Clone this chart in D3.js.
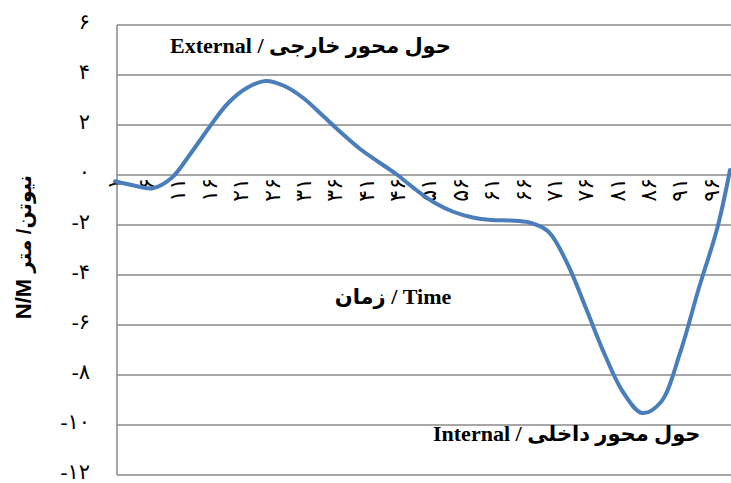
<!DOCTYPE html>
<html>
<head>
<meta charset="utf-8">
<script src="https://cdn.jsdelivr.net/npm/d3@7"></script>
<style>
  body { margin: 0; background: #fff; }
  svg { display: block; }
</style>
</head>
<body>
<svg id="chart" width="731" height="483"></svg>
<script>
// values (every third time step)
var sampleIndex = [1, 4, 7, 10, 13, 16, 19, 22, 25, 28, 31, 34, 37, 40, 43, 46, 49, 52, 55, 58, 61, 64, 67, 70, 73, 76, 79, 82, 85, 88, 91, 94, 97, 99];
var forceValues = [-0.25, -0.42, -0.53, -0.12, 0.84, 1.9, 2.87, 3.48, 3.76, 3.56, 3.08, 2.4, 1.7, 1.05, 0.52, 0.0, -0.6, -1.12, -1.48, -1.7, -1.8, -1.82, -1.9, -2.25, -3.5, -5.3, -7.16, -8.7, -9.52, -9.08, -7.15, -4.56, -2.1, 0.2];
var xTickValues = [1, 6, 11, 16, 21, 26, 31, 36, 41, 46, 51, 56, 61, 66, 71, 76, 81, 86, 91, 96];
var yTickValues = [6, 4, 2, 0, -2, -4, -6, -8, -10, -12];

var externalLatin = "External / ";
var externalArabic = "حول محور خارجی";
var internalLatin = "Internal / ";
var internalArabic = "حول محور داخلی";
var timeArabic = "زمان";
var timeLatin = " / Time";
var yTitleLatin = "N/M ";
var yTitleArabic = "نیوتن/ متر";

var persianDigits = "۰۱۲۳۴۵۶۷۸۹";
function toPersian(n) {
    return String(n).replace(/[0-9]/g, function (d) { return persianDigits[+d]; });
}

var svg = d3.select("#chart");

var x = d3.scaleLinear().domain([1, 99]).range([115, 730]);
var y = d3.scaleLinear().domain([-12, 6]).range([475, 25]);

var gridColor = "#8a8a8a";
var serif = "'Liberation Serif', 'Times New Roman', 'DejaVu Sans', serif";

// horizontal grid lines
svg.append("g")
    .selectAll("line")
    .data(yTickValues)
    .enter().append("line")
    .attr("x1", 117).attr("x2", 731)
    .attr("y1", function (d) { return y(d); })
    .attr("y2", function (d) { return y(d); })
    .attr("stroke", gridColor)
    .attr("stroke-width", 1.5);

// left axis line
svg.append("line")
    .attr("x1", 117).attr("x2", 117)
    .attr("y1", y(6)).attr("y2", y(-12))
    .attr("stroke", gridColor)
    .attr("stroke-width", 1.5);

// y tick labels
svg.append("g")
    .selectAll("text")
    .data(yTickValues)
    .enter().append("text")
    .attr("x", 90)
    .attr("y", function (d) { return y(d) - 3; })
    .attr("dy", "0.35em")
    .attr("text-anchor", "end")
    .attr("font-family", serif)
    .attr("font-size", 21)
    .attr("fill", "#000")
    .text(function (d) { return d < 0 ? "-" + toPersian(-d) : toPersian(d); });

// x tick labels, rotated, hanging under the zero line
svg.append("g")
    .selectAll("text")
    .data(xTickValues)
    .enter().append("text")
    .attr("transform", function (d) { return "translate(" + x(d) + "," + (y(0) + 3) + ") rotate(-90)"; })
    .attr("dy", "0.35em")
    .attr("text-anchor", "end")
    .attr("font-family", serif)
    .attr("font-size", 22)
    .attr("fill", "#000")
    .text(function (d) { return toPersian(d); });

// smoothed series line
var line = d3.line()
    .x(function (d, i) { return x(sampleIndex[i]); })
    .y(function (d) { return y(d); })
    .curve(d3.curveCatmullRom.alpha(0.5));

svg.append("path")
    .datum(forceValues)
    .attr("d", line)
    .attr("fill", "none")
    .attr("stroke", "#4a7ebb")
    .attr("stroke-width", 4)
    .attr("stroke-linecap", "round");

// annotation texts, latin and arabic parts sized apart
function label(parts, px, py, anchor) {
    var t = svg.append("text")
        .attr("x", px)
        .attr("y", py)
        .attr("dy", "0.35em")
        .attr("text-anchor", anchor)
        .attr("font-family", serif)
        .attr("font-weight", "bold")
        .attr("fill", "#000");
    parts.forEach(function (p) {
        t.append("tspan").attr("font-size", p[1]).text(p[0]);
    });
}
label([[externalLatin, 22], [externalArabic, 21]], 170, 47, "start");
label([[timeArabic, 21], [timeLatin, 22]], 393, 298, "middle");
label([[internalLatin, 22], [internalArabic, 21]], 433, 435, "start");

// y axis title
var yTitle = svg.append("text")
    .attr("transform", "translate(31,247) rotate(-90)")
    .attr("text-anchor", "middle")
    .attr("font-family", "'Liberation Sans', Arial, 'DejaVu Sans', sans-serif")
    .attr("font-weight", "bold")
    .attr("fill", "#000");
yTitle.append("tspan").attr("font-size", 22).text(yTitleLatin);
yTitle.append("tspan").attr("font-size", 20).text(yTitleArabic);
</script>
</body>
</html>
